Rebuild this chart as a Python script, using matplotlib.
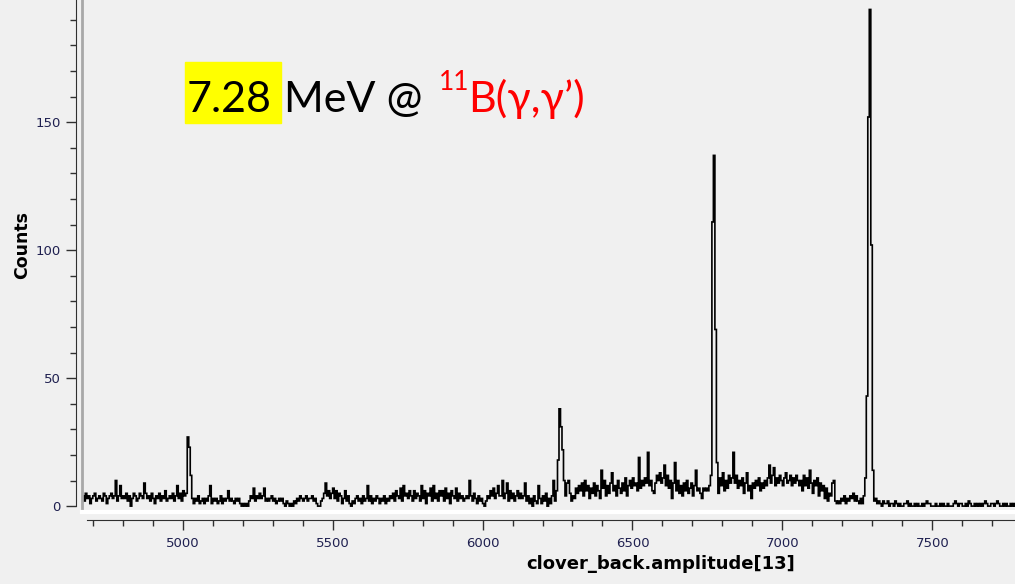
import numpy as np
import matplotlib.pyplot as plt
from matplotlib.patches import Rectangle
from matplotlib.ticker import MultipleLocator

# histogram: first bin edge, bin width, counts per bin (rows of 20 bins = 100 channels)
bin_start = 4660
bin_width = 5
counts = [
    3, 4, 2, 5, 3, 4, 1, 3, 4, 5, 2, 3, 4, 3, 2, 5, 4, 1, 3, 4,            # 4660
    5, 3, 4, 10, 2, 4, 8, 3, 4, 3, 5, 2, 4, 0, 3, 5, 4, 2, 3, 5,           # 4760
    4, 3, 9, 5, 3, 4, 2, 5, 3, 1, 4, 3, 5, 2, 4, 3, 6, 2, 3, 4,            # 4860
    3, 5, 2, 4, 8, 3, 5, 2, 6, 4, 5, 27, 23, 12, 3, 1, 3, 2, 4, 1,         # 4960
    2, 3, 1, 3, 2, 4, 8, 1, 3, 2, 3, 1, 2, 4, 1, 3, 2, 3, 6, 2,            # 5060
    3, 2, 1, 3, 2, 3, 1, 0, 1, 0, 1, 0, 2, 4, 3, 7, 2, 4, 3, 5,            # 5160
    3, 4, 7, 2, 3, 2, 3, 4, 2, 3, 1, 2, 3, 2, 3, 1, 0, 2, 1, 0,            # 5260
    1, 0, 2, 1, 3, 2, 4, 3, 2, 3, 4, 2, 3, 3, 4, 2, 3, 1, 0, 0,            # 5360
    2, 3, 5, 9, 4, 6, 3, 5, 7, 3, 6, 2, 5, 4, 1, 3, 6, 2, 4, 1,            # 5460
    0, 2, 1, 3, 4, 2, 3, 1, 4, 2, 3, 8, 2, 4, 1, 3, 2, 4, 3, 1,            # 5560
    3, 2, 4, 1, 3, 2, 4, 3, 5, 2, 6, 4, 3, 7, 2, 8, 4, 5, 3, 6,            # 5660
    4, 2, 6, 3, 5, 4, 2, 8, 3, 6, 1, 5, 4, 7, 2, 8, 3, 5, 2, 6,            # 5760
    4, 6, 2, 7, 3, 5, 1, 6, 4, 3, 7, 2, 5, 3, 4, 2, 3, 4, 3, 10,           # 5860
    4, 2, 5, 3, 1, 4, 2, 3, 1, 0, 2, 4, 3, 6, 4, 7, 3, 5, 8, 4,            # 5960
    4, 10, 3, 5, 9, 2, 6, 3, 5, 2, 4, 6, 3, 5, 3, 4, 9, 2, 4, 1,           # 6060
    3, 0, 4, 2, 1, 8, 3, 1, 4, 2, 5, 0, 3, 1, 4, 10, 2, 6, 18, 38,         # 6160
    31, 22, 10, 4, 9, 10, 5, 2, 4, 3, 7, 5, 8, 6, 9, 4, 10, 6, 8, 3,       # 6260
    7, 5, 9, 4, 8, 6, 3, 14, 7, 10, 4, 8, 5, 9, 13, 6, 8, 4, 10, 7,        # 6360
    5, 9, 6, 11, 4, 8, 10, 7, 11, 8, 9, 6, 19, 7, 10, 8, 11, 9, 21, 8,     # 6460
    10, 6, 5, 9, 12, 10, 13, 9, 11, 16, 8, 12, 7, 10, 3, 9, 17, 6, 10, 5,  # 6560
    8, 4, 9, 6, 10, 5, 7, 9, 4, 8, 14, 6, 7, 5, 3, 7, 6, 7, 6, 8,          # 6660
    12, 111, 137, 69, 17, 5, 11, 8, 13, 6, 10, 7, 12, 9, 11, 21, 9, 12, 7, 10,  # 6760
    8, 11, 5, 9, 13, 6, 8, 3, 9, 7, 10, 8, 11, 6, 9, 7, 10, 8, 11, 16,     # 6860
    9, 12, 15, 8, 11, 9, 12, 10, 8, 11, 13, 9, 10, 12, 8, 11, 9, 12, 10, 8,  # 6960
    10, 6, 12, 8, 11, 7, 14, 9, 5, 10, 8, 11, 4, 9, 6, 8, 3, 7, 2, 5,      # 7060
    4, 9, 10, 2, 1, 2, 1, 3, 2, 4, 1, 3, 2, 4, 3, 5, 2, 4, 2, 1,           # 7160
    3, 1, 4, 11, 43, 152, 194, 102, 14, 2, 3, 1, 2, 1, 0, 2, 1, 1, 2, 0,   # 7260
    1, 1, 0, 2, 1, 0, 1, 0, 0, 1, 1, 2, 0, 1, 0, 0, 1, 0, 1, 0,            # 7360
    0, 1, 0, 1, 2, 1, 1, 0, 0, 0, 1, 0, 0, 1, 0, 1, 0, 0, 1, 0,            # 7460
    0, 0, 1, 2, 1, 0, 1, 1, 0, 0, 1, 0, 2, 1, 0, 0, 1, 0, 1, 0,            # 7560
    1, 0, 1, 2, 1, 0, 0, 1, 1, 0, 1, 2, 1, 0, 0, 1, 0, 1, 0, 0,            # 7660
    1, 0, 1, 0,                                                            # 7760
]
x_major = [5000, 5500, 6000, 6500, 7000, 7500]
y_major = [0, 50, 100, 150]

edges = bin_start + bin_width * np.arange(len(counts) + 1)

W, H = 1015, 584
bg = '#f0f0f0'
fig = plt.figure(figsize=(W / 100, H / 100), dpi=100, facecolor=bg)
ax = fig.add_axes([82 / W, 72 / H, 933 / W, 512 / H])
ax.set_facecolor(bg)

ax.stairs(counts, edges, color='black', lw=1.2, baseline=None)

ax.set_xlim(4664, 7776)
ax.set_ylim(-2.3, 197.7)

for s in ['top', 'right']:
    ax.spines[s].set_visible(False)
ax.spines['left'].set_position(('outward', 4))
ax.spines['left'].set_bounds(0, 197.7)
ax.spines['bottom'].set_position(('outward', 6))
ax.spines['bottom'].set_bounds(4680, 7776)
for s in ['left', 'bottom']:
    ax.spines[s].set_color('#303030')

# frame edges of the plot area: gray on the left, white at the bottom
ax.plot([0, 0], [0, 1], transform=ax.transAxes, color='#a8a8a8', lw=2, clip_on=False)
ax.plot([0, 1], [0, 0], transform=ax.transAxes, color='white', lw=3, clip_on=False)

ax.set_xticks(x_major)
ax.set_yticks(y_major)
ax.xaxis.set_minor_locator(MultipleLocator(100))
ax.yaxis.set_minor_locator(MultipleLocator(10))
tick_col = '#1f2050'
ax.tick_params(axis='both', which='major', length=7.2, width=1, color='#303030',
               labelsize=9.5, labelcolor=tick_col)
ax.tick_params(axis='both', which='minor', length=4, width=1, color='#303030')
ax.tick_params(axis='x', which='major', pad=5)
ax.tick_params(axis='y', which='major', pad=4)

fig.text(22 / W, 1 - 245 / H, 'Counts', rotation=90, fontweight='bold', fontsize=12.5,
         ha='center', va='center')
fig.text(661 / W, 1 - 564 / H, 'clover_back.amplitude[13]', fontweight='bold', fontsize=13,
         ha='center', va='center')

# annotation "7.28 MeV @ 11B(g,g')" with yellow highlight
fig.patches.append(Rectangle((185 / W, 1 - 123 / H), 96 / W, 61 / H,
                             transform=fig.transFigure, color='#ffff00', zorder=0))
fnt = 'Lato'
base = 1 - 112 / H
fig.text(187 / W, base, '7.28', family=fnt, fontsize=31, va='baseline')
fig.text(284 / W, base, 'MeV @', family=fnt, fontsize=31, va='baseline')
fig.text(439 / W, 1 - 90 / H, '11', family=fnt, fontsize=19, va='baseline', color='red')
fig.text(468 / W, base, 'B(γ,γ’)', family=fnt, fontsize=31, va='baseline', color='red')

fig.savefig('out.png', dpi=100, facecolor=bg)
